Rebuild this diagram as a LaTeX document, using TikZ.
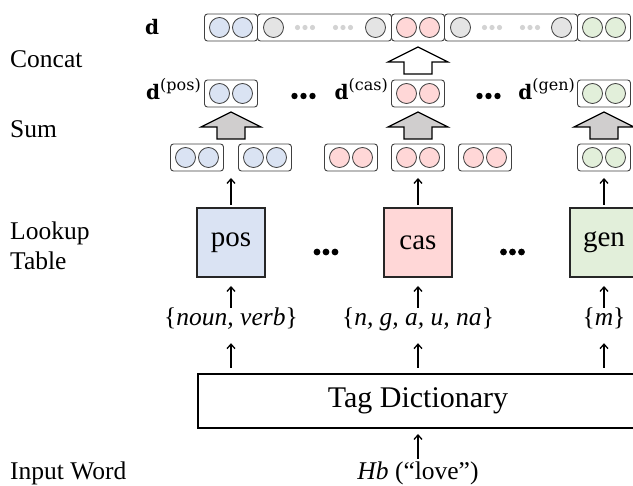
\documentclass[tikz,border=0pt]{standalone}
\usepackage{fontspec}
\setmainfont{Liberation Serif}
\newfontfamily\eqfont{DejaVu Serif}
\usetikzlibrary{arrows.meta}

\definecolor{posfill}{HTML}{DAE3F3}
\definecolor{casfill}{HTML}{FFD7D7}
\definecolor{genfill}{HTML}{E2EFDA}
\definecolor{padfill}{HTML}{E4E4E4}
\definecolor{paddot}{HTML}{D3D3D3}
\definecolor{sumfill}{HTML}{D0CECE}
\definecolor{vecline}{HTML}{404040}

% a small embedding vector: rounded frame holding two coloured units
\newcommand\embvec[4]{% name, x, y, colour
  \node[vecbox] (#1) at (#2,#3) {};
  \draw[unit, fill=#4] (#2-11.5,#3) circle[radius=10pt];
  \draw[unit, fill=#4] (#2+11.5,#3) circle[radius=10pt];}

% three dots in a row
\newcommand\tridots[5]{% x, y, radius, spacing, colour
  \foreach \k in {-1,0,1} \fill[#5] (#1+\k*#4,#2) circle[radius=#3pt];}

% block arrow pointing up
\newcommand\blockarrow[4]{% x, bottom y, tip y, fill
  \draw[blockline, fill=#4] (#1-14,#2) -- (#1-14,#3+15) -- (#1-30,#3+15) -- (#1,#3)
    -- (#1+30,#3+15) -- (#1+14,#3+15) -- (#1+14,#2) -- cycle;}

\begin{document}
\begin{tikzpicture}[x=1pt,y=-1pt,
  vecbox/.style={rectangle, rounded corners=3pt, draw=vecline, line width=0.9pt,
    fill=white, minimum width=53pt, minimum height=27pt, inner sep=0pt, outer sep=0pt},
  unit/.style={draw=vecline, line width=0.8pt},
  lookbox/.style={rectangle, draw=black!85, line width=1.5pt, minimum width=68pt,
    minimum height=69pt, inner sep=0pt, outer sep=0pt,
    font=\fontsize{29}{30}\selectfont},
  rowlabel/.style={inner sep=0pt, anchor=base west, font=\fontsize{25.5}{30}\selectfont},
  taglabel/.style={inner sep=0pt, anchor=base, text height=18pt, text depth=6pt,
    font=\fontsize{25.5}{30}\selectfont},
  dlabel/.style={inner sep=0pt, font=\eqfont\fontsize{20}{22}\selectfont},
  arr/.style={-{Straight Barb[length=4.5pt,width=8pt]}, line width=1.3pt},
  blockline/.style={draw=black, line width=1.2pt, line join=miter},
]
\useasboundingbox (0,0) rectangle (633,486);
\clip (0,0) rectangle (633,486);

% ---- row labels on the left
\node[rowlabel] (lconcat) at (10,68) {Concat};
\node[rowlabel] (lsum) at (10,138) {Sum};
\node[rowlabel] (llook) at (10,240) {Lookup};
\node[rowlabel] (ltable) at (10,270) {Table};
\node[rowlabel] (linput) at (10,480) {Input Word};

% ---- concatenated vector d
\node[dlabel, anchor=base west] (dcat) at (145,35) {\bfseries d};
\embvec{tpos}{231}{27.5}{posfill}
\node[vecbox, minimum width=134pt] (tpadA) at (324.5,27.5) {};
\draw[unit, fill=padfill] (273.5,27.5) circle[radius=10pt];
\draw[unit, fill=padfill] (375.5,27.5) circle[radius=10pt];
\tridots{305}{27.5}{2.6}{7.5}{paddot}
\tridots{343}{27.5}{2.6}{7.5}{paddot}
\embvec{tcas}{418}{27.5}{casfill}
\node[vecbox, minimum width=133pt] (tpadB) at (511,27.5) {};
\draw[unit, fill=padfill] (460.5,27.5) circle[radius=10pt];
\draw[unit, fill=padfill] (561.5,27.5) circle[radius=10pt];
\tridots{492}{27.5}{2.6}{7.5}{paddot}
\tridots{530}{27.5}{2.6}{7.5}{paddot}
\embvec{tgen}{604}{27.5}{genfill}

% ---- concat arrow
\blockarrow{418}{74}{47}{white}

% ---- per-tag summed vectors
\embvec{spos}{231}{93.5}{posfill}
\embvec{scas}{418}{93.5}{casfill}
\embvec{sgen}{604}{93.5}{genfill}
\node[dlabel, anchor=base east] (dpos) at (201,100)
  {\textbf{d}\raisebox{9pt}{\fontsize{16}{17}\selectfont(pos)}};
\node[dlabel, anchor=base east] (dcas) at (388,100)
  {\textbf{d}\raisebox{9pt}{\fontsize{16}{17}\selectfont(cas)}};
\node[dlabel, anchor=base east] (dgen) at (575,100)
  {\textbf{d}\raisebox{9pt}{\fontsize{16}{17}\selectfont(gen)}};
\tridots{303.5}{96}{3.2}{9}{black}
\tridots{488.5}{96}{3.2}{9}{black}

% ---- sum arrows
\blockarrow{231}{139}{112}{sumfill}
\blockarrow{418}{139}{112}{sumfill}
\blockarrow{604}{139}{112}{sumfill}

% ---- looked-up tag vectors
\embvec{vposA}{197}{157.5}{posfill}
\embvec{vposB}{265}{157.5}{posfill}
\embvec{vcasA}{351}{157.5}{casfill}
\embvec{vcasB}{418}{157.5}{casfill}
\embvec{vcasC}{485}{157.5}{casfill}
\embvec{vgen}{604}{157.5}{genfill}

% ---- lookup tables
\node[lookbox, fill=posfill] (kpos) at (231,242.5) {pos};
\node[lookbox, fill=casfill] (kcas) at (418,242.5) {cas};
\node[lookbox, fill=genfill] (kgen) at (604,242.5) {gen};
\tridots{326}{252}{3.4}{9}{black}
\tridots{512.5}{252}{3.4}{9}{black}

% ---- tag sets
\node[taglabel] (tpos) at (231,326) {\{\textit{noun, verb}\}};
\node[taglabel] (tcas) at (418,326) {\{\textit{n, g, a, u, na}\}};
\node[taglabel] (tgen) at (604,326) {\{\textit{m}\}};

% ---- tag dictionary and input word
\node[rectangle, draw=black, line width=1.5pt, minimum width=440pt, minimum height=54pt,
  inner sep=0pt, outer sep=0pt, font=\fontsize{30}{32}\selectfont] (dict) at (418,401)
  {Tag Dictionary};
\node[taglabel] (word) at (418,480) {\textit{Hb} (“love”)};

% ---- connectors
\draw[arr, shorten <=3pt, shorten >=6pt] (word.north) -- (word.north |- dict.south);
\foreach \t in {pos,cas,gen} {
  \draw[arr, shorten <=6pt, shorten >=11pt] (dict.north -| t\t.south) -- (t\t.south);
  \draw[arr, shorten >=9pt] (t\t.north) -- (k\t.south);
  \draw[arr, shorten <=3pt, shorten >=7pt] (k\t.north) -- (k\t.north |- vcasB.south);
}
\end{tikzpicture}
\end{document}
